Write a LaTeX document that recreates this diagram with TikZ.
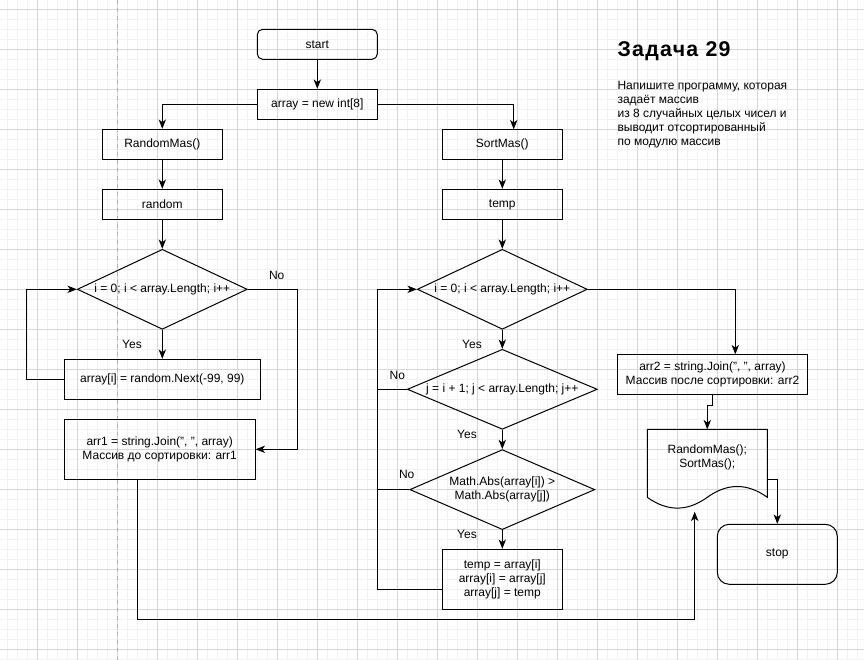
\documentclass[tikz,border=0pt]{standalone}
\usepackage{fontspec}
\setmainfont{Liberation Sans}
\usetikzlibrary{arrows.meta,shapes.geometric}

\tikzset{
	every node/.style={font=\fontsize{9}{10.5}\selectfont, inner sep=0pt},
	wire/.style={line width=0.75pt},
	arr/.style={wire, -{Stealth[length=7pt, width=5.5pt, inset=2pt]}},
	box/.style={draw, wire, align=center, minimum width=90pt, minimum height=22.5pt},
	term/.style={box, rounded corners=4pt},
	cond/.style={draw, wire, shape=diamond, align=center, minimum width=127.5pt, minimum height=60pt, shape aspect=2.2},
	gridminor/.style={line width=0.75pt, color=black!5},
	gridmajor/.style={line width=0.75pt, color=black!16},
}

\begin{document}
\begin{tikzpicture}[x=0.75pt, y=-0.75pt]
			%%%%% START %%%%%
			
			\useasboundingbox (0, 0) rectangle (864, 660);
			\fill[white] (0, 0) rectangle (864, 660);
			
			% grid of the page
			\foreach \i in {0,...,85}
				\draw[gridminor] ({7.33+10*\i}, 0) -- ++(0, 660);
			\foreach \i in {0,...,65}
				\draw[gridminor] (0, {9.33+10*\i}) -- ++(864, 0);
			\foreach \i in {0,...,20}
				\draw[gridmajor] ({37.33+40*\i}, 0) -- ++(0, 660);
			\foreach \i in {0,...,16}
				\draw[gridmajor] (0, {9.33+40*\i}) -- ++(864, 0);
			\draw[line width=0.75pt, color=black!30, dash pattern=on 3pt off 3pt] (117.33, 0) -- (117.33, 660);
			
			% task text
			\node[anchor=base west, font=\fontsize{16}{18}\selectfont\bfseries\addfontfeature{LetterSpace=6}] (title) at (617.3, 56.7) {Задача 29};
			\node[anchor=base west, align=left] (task) at (617.3, 145.7) {Напишите программу, которая\\задаёт массив\\из 8 случайных целых чисел и\\выводит отсортированный\\по модулю массив};
			
			% main
			\node[term] (start) at (317.3, 44.3) {start};
			\node[box] (array) at (317.3, 104.3) {array = new int[8]};
			
			% RandomMas
			\node[box] (rnd) at (162.3, 144.3) {RandomMas()};
			\node[box] (random) at (162.3, 204.3) {random};
			\node[cond] (d1) at (162.3, 289.3) {i = 0; i < array.Length; i++};
			\node[box, minimum width=147pt, minimum height=30pt] (fill) at (162.3, 379.3) {array[i] = random.Next(-99, 99)};
			\node[box, minimum width=143.25pt, minimum height=45pt] (arr1) at (159.7, 449.3) {arr1 = string.Join(", ", array)\\Массив до сортировки: arr1};
			
			% SortMas
			\node[box] (sort) at (502.3, 144.3) {SortMas()};
			\node[box] (temp) at (502.3, 204.3) {temp\vphantom{T}};
			\node[cond] (d2) at (502.3, 289.3) {i = 0; i < array.Length; i++};
			\node[cond, minimum width=142.5pt, shape aspect=2.4] (d3) at (502.3, 389.3) {j = i + 1; j < array.Length; j++};
			\node[cond, minimum width=138.75pt, shape aspect=2.3] (d4) at (502.3, 489.6) {Math.Abs(array[i]) >\\Math.Abs(array[j])};
			\node[box, minimum height=45pt] (swap) at (502.3, 579.3) {temp = array[i]\\array[i] = array[j]\\array[j] = temp};
			
			% output
			\node[box, minimum width=142.5pt, minimum height=30pt] (arr2) at (712.5, 374.3) {arr2 = string.Join(", ", array)\\Массив после сортировки: arr2};
			\draw[wire] (647.3, 429.3) -- (767.3, 429.3) -- (767.3, 497.3)
				.. controls (747.3, 482.9) and (727.3, 482.9) .. (707.3, 497.3)
				.. controls (687.3, 511.7) and (667.3, 511.7) .. (647.3, 497.3) -- cycle;
			\node[align=center] (doc) at (707.3, 457.8) {RandomMas();\\SortMas();};
			\node[term, rounded corners=9pt, minimum height=45pt] (stop) at (777.3, 554.3) {stop};
			
			\coordinate (sortin) at (513.7, 129.3);
			\coordinate (out1) at (137.3, 479.3);
			\coordinate (docin) at (694.7, 511.7);
			\coordinate (doctop) at (707.3, 429.3);
			\coordinate (docout) at (767.3, 479.3);
			\coordinate (swapout) at (442.3, 589.3);
			\coordinate (loop) at (377.3, 589.3);
			\coordinate (arr2in) at (735.3, 354.3);
			
			% labels
			\node (no1) at (276.7, 275) {No};
			\node (yes1) at (132, 344.7) {Yes};
			\node (yes2) at (472, 344.7) {Yes};
			\node (no3) at (397.3, 375) {No};
			\node (yes3) at (467, 434.3) {Yes};
			\node (no4) at (406.7, 474.3) {No};
			\node (yes4) at (467, 534.3) {Yes};
			
			% connectors
			\draw[arr] (start) -- (array);
			\draw[arr] (array.west) -| (rnd.north);
			\draw[arr] (array.east) -| (sortin);
			\draw[arr] (rnd) -- (random);
			\draw[arr] (random) -- (d1);
			\draw[arr] (d1.south) -- (d1.south |- fill.north);
			\draw[arr] (fill.west) -- ++(-37, 0) |- (d1.west);
			\draw[arr] (d1.east) -- ++(50, 0) |- (arr1.east);
			\draw[arr] (out1) -- ++(0, 140) -| (docin);
			
			\draw[arr] (sort) -- (temp);
			\draw[arr] (temp) -- (d2);
			\draw[arr] (d2) -- (d3);
			\draw[arr] (d3) -- (d4);
			\draw[arr] (d4) -- (swap);
			\draw[arr] (swapout) -- (loop) |- (d2.west);
			\draw[wire] (d3.west) -- (d3.west -| loop);
			\draw[wire] (d4.west) -- (d4.west -| loop);
			\draw[arr] (d2.east) -| (arr2in);
			
			\draw[arr] (arr2.south) -- ++(0, 10.7) -| (doctop);
			\draw[arr] (docout) -| (stop.north);
			
			%%%%% END %%%%%
\end{tikzpicture}
\end{document}
